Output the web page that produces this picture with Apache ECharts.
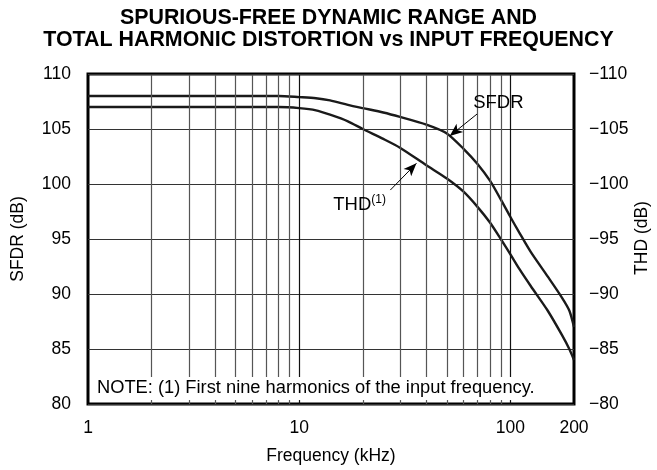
<!DOCTYPE html>
<html>
<head>
<meta charset="utf-8">
<script src="https://cdn.jsdelivr.net/npm/echarts@6/dist/echarts.min.js"></script>
<style>
  html, body { margin: 0; padding: 0; background: #fff; overflow: hidden; }
  #chart { width: 657px; height: 470px; }
</style>
</head>
<body>
<div id="chart"></div>
<script>
// Input frequency (kHz)
const freqKHz = [1, 2, 5, 8, 10, 12, 14, 17, 20, 25, 30, 40, 50, 60, 70, 80, 90, 100, 110, 125, 150, 175, 190, 200];
// Spurious-free dynamic range (dB), left axis
const sfdrDB = [108.0, 108.0, 108.0, 108.0, 107.9, 107.8, 107.6, 107.2, 106.9, 106.5, 106.1, 105.4, 104.6, 103.2, 101.8, 100.3, 98.6, 97.0, 95.6, 93.8, 91.6, 89.7, 88.5, 87.0];
// Total harmonic distortion (dB), right axis
const thdDB = [-107.0, -107.0, -107.0, -107.0, -106.9, -106.7, -106.3, -105.7, -105.0, -104.1, -103.3, -101.7, -100.5, -99.3, -97.9, -96.5, -95.0, -93.6, -92.3, -90.7, -88.5, -86.3, -85.0, -84.0];

// Vertical log grid lines
const minorGridKHz = [2, 3, 4, 5, 6, 7, 8, 9, 20, 30, 40, 50, 60, 70, 80, 90];
const decadeGridKHz = [10, 100];

const FONT = '"Liberation Sans", Arial, Helvetica, sans-serif';
const noteTop = 82.45;   // grid lines stop above the note strip
const stubTop = 80.36;   // short tick stubs along the bottom border

function vLines(list, color) {
  const out = [];
  list.forEach(f => {
    out.push([{ coord: [f, noteTop], lineStyle: { color: color } }, { coord: [f, 109.9] }]);
    out.push([{ coord: [f, 80], lineStyle: { color: color } }, { coord: [f, stubTop] }]);
  });
  return out;
}

const chart = echarts.init(document.getElementById('chart'), null, { renderer: 'canvas', width: 657, height: 470 });

chart.setOption({
  backgroundColor: '#fff',
  animation: false,
  title: {
    text: 'SPURIOUS-FREE DYNAMIC RANGE AND\nTOTAL HARMONIC DISTORTION vs INPUT FREQUENCY',
    left: 'center',
    top: 2,
    textStyle: { fontFamily: FONT, fontSize: 21.4, fontWeight: 'bold', color: '#000', lineHeight: 22 }
  },
  grid: {
    left: 88, right: 83, top: 74, bottom: 66,
    containLabel: false, outerBoundsMode: 'none',
    show: true, borderColor: '#000', borderWidth: 3, backgroundColor: 'transparent'
  },
  xAxis: {
    type: 'log', logBase: 10, min: 1, max: 200,
    axisLine: { show: false }, axisTick: { show: false }, splitLine: { show: false },
    axisLabel: { fontFamily: FONT, fontSize: 17.5, color: '#000', margin: 15, showMaxLabel: true },
    name: 'Frequency (kHz)', nameLocation: 'middle', nameGap: 43,
    nameTextStyle: { fontFamily: FONT, fontSize: 17.5, color: '#000' }
  },
  yAxis: [
    {
      type: 'value', min: 80, max: 110, interval: 5, position: 'left',
      axisLine: { show: false }, axisTick: { show: false },
      splitLine: { show: true, lineStyle: { color: '#333', width: 1 } },
      axisLabel: { fontFamily: FONT, fontSize: 17.5, color: '#000', margin: 17 },
      name: 'SFDR (dB)', nameLocation: 'middle', nameGap: 61, nameRotate: 90,
      nameTextStyle: { fontFamily: FONT, fontSize: 17.5, color: '#000' }
    },
    {
      type: 'value', min: -110, max: -80, interval: 5, position: 'right', inverse: true,
      axisLine: { show: false }, axisTick: { show: false }, splitLine: { show: false },
      axisLabel: {
        fontFamily: FONT, fontSize: 17.5, color: '#000', margin: 15,
        formatter: v => String(v).replace('-', '\u2212')
      }
    }
  ],
  series: [
    {
      // vertical grid lines and bottom tick stubs
      name: 'decor', type: 'line', data: [], z: 1, silent: true,
      markLine: {
        silent: true, symbol: 'none', animation: false,
        label: { show: false },
        lineStyle: { type: 'solid', width: 1.2, color: '#555' },
        data: vLines(minorGridKHz, '#555').concat(vLines(decadeGridKHz, '#111'))
      }
    },
    {
      // callout arrows and labels
      name: 'callouts', type: 'line', data: [], z: 4, silent: true,
      markLine: {
        silent: true, symbol: ['none', 'arrow'], symbolSize: [8, 13], animation: false,
        label: { show: false },
        lineStyle: { type: 'solid', width: 1, color: '#000' },
        data: [
          [{ coord: [69.5, 106.36] }, { coord: [51.6, 104.36] }],
          [{ coord: [27.0, 99.45] }, { coord: [35.9, 101.88] }]
        ]
      },
      markPoint: {
        silent: true, symbol: 'rect', symbolSize: 1, animation: false,
        itemStyle: { color: 'rgba(0,0,0,0)' },
        label: {
          show: true, position: 'inside', align: 'left', verticalAlign: 'middle',
          fontFamily: FONT, fontSize: 18.5, color: '#000'
        },
        data: [
          { coord: [66.6, 107.36], value: 'SFDR', label: { formatter: 'SFDR' } },
          {
            coord: [14.5, 98.18], value: 'THD',
            label: {
              formatter: '{m|THD}{s|(1)}',
              rich: {
                m: { fontFamily: FONT, fontSize: 18.5, color: '#000', lineHeight: 20, verticalAlign: 'bottom' },
                s: { fontFamily: FONT, fontSize: 12, color: '#000', lineHeight: 20, verticalAlign: 'top', padding: [0, 0, 6, 0] }
              }
            }
          }
        ]
      }
    },
    {
      name: 'SFDR', type: 'line', xAxisIndex: 0, yAxisIndex: 0, z: 3,
      data: freqKHz.map((f, i) => [f, sfdrDB[i]]),
      showSymbol: false, smooth: 0.25,
      lineStyle: { color: '#1a1a1a', width: 2.4 }
    },
    {
      name: 'THD', type: 'line', xAxisIndex: 0, yAxisIndex: 1, z: 3,
      data: freqKHz.map((f, i) => [f, thdDB[i]]),
      showSymbol: false, smooth: 0.25,
      lineStyle: { color: '#1a1a1a', width: 2.4 }
    }
  ],
  graphic: [
    {
      type: 'text', left: 97, top: 379, z: 5,
      style: {
        text: 'NOTE: (1) First nine harmonics of the input frequency.',
        font: '18.3px ' + FONT, fill: '#000'
      }
    },
    {
      // right-hand axis title
      type: 'text', x: 642, y: 238, rotation: Math.PI / 2, z: 5,
      style: {
        text: 'THD (dB)', font: '17.5px ' + FONT, fill: '#000',
        align: 'center', verticalAlign: 'middle'
      }
    }
  ]
});
</script>
</body>
</html>
